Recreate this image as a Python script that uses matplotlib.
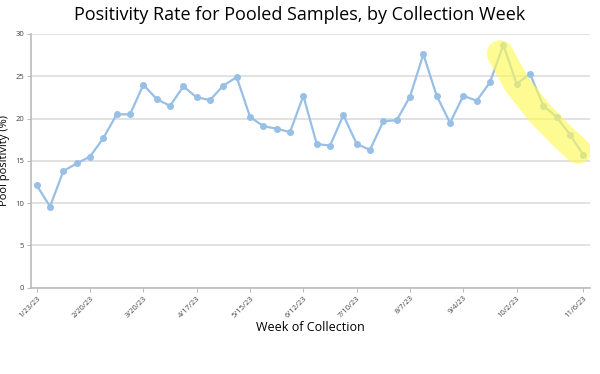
import numpy as np
import pandas as pd
import matplotlib
matplotlib.use("Agg")
import matplotlib.pyplot as plt
import matplotlib.dates as mdates

plt.rcParams['font.family'] = ['Open Sans', 'DejaVu Sans']

# weekly positivity (%), week starting 1/23/23
positivity = [12.1, 9.6, 13.8, 14.7, 15.5, 17.7, 20.5, 20.5, 24.0, 22.3,
              21.5, 23.8, 22.5, 22.2, 23.9, 24.9, 20.2, 19.1, 18.8, 18.4,
              22.7, 17.0, 16.8, 20.4, 17.0, 16.3, 19.7, 19.8, 22.6, 27.6,
              22.7, 19.5, 22.7, 22.1, 24.3, 28.7, 24.1, 25.3, 21.5, 20.2,
              18.1, 15.7]
weeks = pd.date_range("2023-01-23", periods=len(positivity), freq="7D")

tick_labels = ["1/23/23", "2/20/23", "3/20/23", "4/17/23", "5/15/23", "6/12/23",
               "7/10/23", "8/7/23", "9/4/23", "10/2/23", "11/6/23"]
tick_dates = pd.to_datetime(tick_labels, format="%m/%d/%y")

# highlight band (week index, value) along the recent decline
hl_idx = [34.75, 36.0, 37.75, 39.5, 40.6]
hl_val = [27.7, 24.1, 20.6, 17.8, 16.2]
hl_dates = [weeks[0] + pd.Timedelta(days=7 * i) for i in hl_idx]

fig = plt.figure(figsize=(6.0, 3.74), dpi=100)
ax = fig.add_axes([31 / 600, 1 - 287.7 / 374, (590 - 31) / 600, (287.7 - 34) / 374])

ax.plot(weeks, positivity, color="#98bfe6", lw=1.6, marker="o", ms=4, zorder=3)
ax.plot(hl_dates, hl_val, color="#fff95a", alpha=0.65, lw=19,
        solid_capstyle="round", solid_joinstyle="round", zorder=4)

ax.set_ylim(0, 30)
ax.set_yticks([0, 5, 10, 15, 20, 25, 30])
ax.set_xlim(weeks[0] - pd.Timedelta(days=3), weeks[-1] + pd.Timedelta(days=3.5))
ax.set_xticks(tick_dates)
ax.set_xticklabels(tick_labels, rotation=45, ha="right", rotation_mode="anchor")

ax.grid(axis="y", color="#dddddd", lw=1.2)
ax.set_axisbelow(True)
for s in ["top", "right"]:
    ax.spines[s].set_visible(False)
for s in ["left", "bottom"]:
    ax.spines[s].set_color("#bbbbbb")
    ax.spines[s].set_linewidth(1.2)
ax.tick_params(axis="both", labelsize=5.5, labelcolor="#444444", color="#bbbbbb", length=3, pad=2)

ax.set_ylabel("Pool positivity (%)", fontsize=8)
ax.yaxis.set_label_coords(-0.038, 0.5)
ax.set_xlabel("Week of Collection", fontsize=9, labelpad=1)
fig.suptitle("Positivity Rate for Pooled Samples, by Collection Week", fontsize=13, y=0.985)

fig.savefig("out.png", dpi=100)
